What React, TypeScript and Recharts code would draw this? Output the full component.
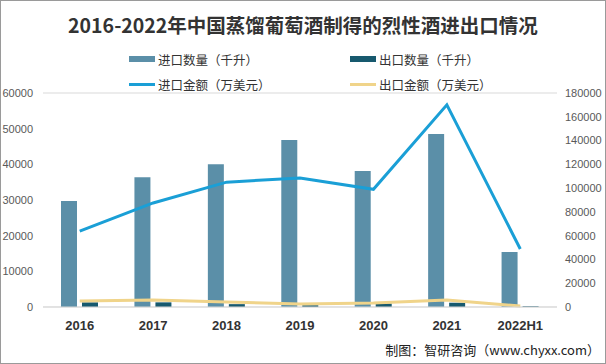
import { ComposedChart, Bar, Line, XAxis, YAxis, CartesianGrid } from 'recharts';

const years = ['2016', '2017', '2018', '2019', '2020', '2021', '2022H1'];
const importQty = [29700, 36400, 40000, 46800, 38100, 48500, 15400];
const exportQty = [1300, 1300, 800, 500, 1000, 1200, 200];
const importValue = [63900, 87500, 105000, 108500, 99000, 170000, 48800];
const exportValue = [5000, 5900, 4200, 2500, 3400, 5900, 800];

const leftTicks = [0, 10000, 20000, 30000, 40000, 50000, 60000];
const rightTicks = [0, 20000, 40000, 60000, 80000, 100000, 120000, 140000, 160000, 180000];

const data = years.map((y, i) => ({
  year: y,
  importQty: importQty[i],
  exportQty: exportQty[i],
  importValue: importValue[i],
  exportValue: exportValue[i],
}));

const font = '"Noto Sans CJK SC", "Noto Sans", sans-serif';
const tickFont = 'Liberation Sans, sans-serif';

const legend = [
  { label: '进口数量（千升）', color: '#5b8fa8', kind: 'bar', x: 129, y: 59 },
  { label: '出口数量（千升）', color: '#17596e', kind: 'bar', x: 350, y: 59 },
  { label: '进口金额（万美元）', color: '#1a9fd6', kind: 'line', x: 129, y: 84 },
  { label: '出口金额（万美元）', color: '#f0d48a', kind: 'line', x: 350, y: 84 },
];

export default function App() {
  return (
    <div style={{ position: 'absolute', left: 0, top: 0, width: 606, height: 364, background: '#fff', fontFamily: font }}>
      <div style={{ position: 'absolute', top: 11, width: '100%', textAlign: 'center', fontSize: 19.5, lineHeight: '28px', fontWeight: 'bold', color: '#333' }}>
        2016-2022年中国蒸馏葡萄酒制得的烈性酒进出口情况
      </div>
      {legend.map((l) => (
        <div key={l.label} style={{ position: 'absolute', left: l.x, top: l.y - 9, height: 18, display: 'flex', alignItems: 'center', fontSize: 12.5, color: '#333', whiteSpace: 'nowrap' }}>
          <span style={{ display: 'inline-block', width: 26, height: l.kind === 'bar' ? 6 : 3, background: l.color, marginRight: 3 }} />
          {l.label}
        </div>
      ))}
      <div style={{ position: 'absolute', top: 0, left: 0 }}>
        <ComposedChart width={606} height={364} data={data} margin={{ top: 93, right: 0, bottom: 27, left: 0 }} barSize={16} barGap={5}>
          <CartesianGrid vertical={false} stroke="#d9d9d9" />
          <XAxis dataKey="year" tickLine={false} axisLine={{ stroke: '#d9d9d9' }} height={30}
            tick={{ fill: '#333', fontSize: 13, fontWeight: 'bold', fontFamily: tickFont }} tickMargin={8} />
          <YAxis yAxisId="left" width={43} domain={[0, 60000]} ticks={leftTicks} axisLine={false} tickLine={false}
            tick={{ fill: '#595959', fontSize: 11, fontFamily: tickFont }} tickMargin={4} />
          <YAxis yAxisId="right" orientation="right" width={49} domain={[0, 180000]} ticks={rightTicks} axisLine={false} tickLine={false}
            tick={{ fill: '#595959', fontSize: 11, fontFamily: tickFont }} tickMargin={2} />
          <Bar yAxisId="left" dataKey="importQty" fill="#5b8fa8" isAnimationActive={false} />
          <Bar yAxisId="left" dataKey="exportQty" fill="#17596e" isAnimationActive={false} />
          <Line yAxisId="right" type="linear" dataKey="importValue" stroke="#1a9fd6" strokeWidth={3} dot={false} isAnimationActive={false} />
          <Line yAxisId="right" type="linear" dataKey="exportValue" stroke="#f0d48a" strokeWidth={3} dot={false} isAnimationActive={false} />
        </ComposedChart>
      </div>
      <div style={{ position: 'absolute', right: 6, bottom: 5, fontSize: 13, color: '#222' }}>
        制图：智研咨询（www.chyxx.com）
      </div>
      <div style={{ position: 'absolute', left: 0, top: 0, width: 606, height: 364, boxSizing: 'border-box', border: '1px solid #9a9a9a', pointerEvents: 'none' }} />
    </div>
  );
}
